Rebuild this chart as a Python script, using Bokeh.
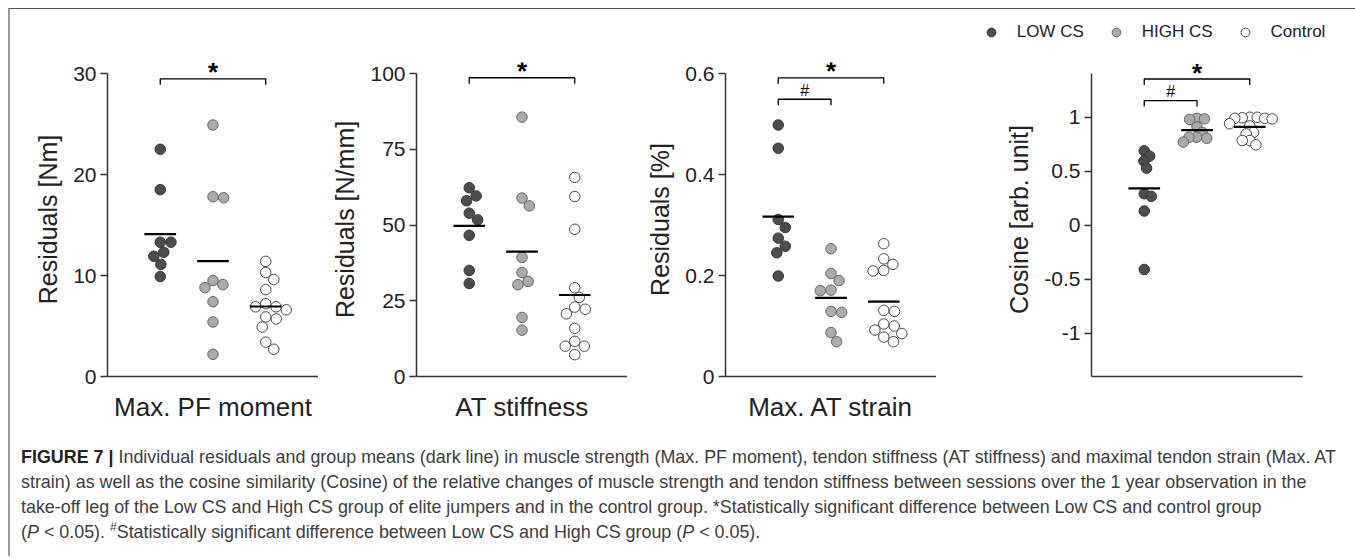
import math
import numpy as np
from bokeh.plotting import figure
from bokeh.models import Range1d, FixedTicker, Label, Legend, LegendItem, Div, ColumnDataSource
from bokeh.layouts import row, column
from bokeh.embed import file_html
from bokeh.resources import INLINE

groups = ["LOW CS", "HIGH CS", "Control"]

# Max. PF moment residuals [Nm]
pf_low = [22.5, 18.5, 13.3, 13.3, 12.3, 11.9, 11.1, 9.9]
pf_high = [24.9, 17.8, 17.7, 9.5, 9.1, 8.8, 7.4, 5.4, 2.2]
pf_ctrl = [11.4, 10.3, 9.6, 8.6, 7.2, 6.9, 6.9, 6.6, 5.9, 5.7, 4.9, 3.4, 2.7]

# AT stiffness residuals [N/mm]
st_low = [62.3, 59.6, 58.0, 53.9, 51.7, 46.6, 35.0, 30.7]
st_high = [85.6, 58.9, 56.3, 39.3, 34.3, 31.4, 30.3, 19.5, 15.3]
st_ctrl = [65.7, 59.4, 48.6, 29.3, 26.1, 22.9, 22.2, 20.7, 15.9, 11.6, 10.0, 10.0, 7.2]

# Max. AT strain residuals [%]
sn_low = [0.498, 0.452, 0.311, 0.295, 0.274, 0.258, 0.245, 0.199]
sn_high = [0.253, 0.204, 0.190, 0.171, 0.170, 0.129, 0.127, 0.087, 0.069]
sn_ctrl = [0.263, 0.233, 0.222, 0.210, 0.209, 0.131, 0.129, 0.104, 0.100, 0.092, 0.085, 0.078, 0.069]

# Cosine similarity [arb. unit]
cs_low = [0.689, 0.640, 0.594, 0.529, 0.292, 0.268, 0.132, -0.409]
cs_high = [0.99, 0.985, 0.98, 0.91, 0.86, 0.815, 0.815, 0.805, 0.77]
cs_ctrl = [1.0, 1.0, 0.995, 0.99, 0.99, 0.985, 0.94, 0.92, 0.86, 0.846, 0.785, 0.785, 0.745]

panel_data = [
    [pf_low, pf_high, pf_ctrl],
    [st_low, st_high, st_ctrl],
    [sn_low, sn_high, sn_ctrl],
    [cs_low, cs_high, cs_ctrl],
]
y_labels = ["Residuals [Nm]", "Residuals [N/mm]", "Residuals [%]", "Cosine [arb. unit]"]
x_labels = ["Max. PF moment", "AT stiffness", "Max. AT strain", ""]
y_limits = [(0, 30), (0, 100), (0, 0.6), (-1.4, 1.405)]
y_ticks = [[0, 10, 20, 30], [0, 25, 50, 75, 100], [0, 0.2, 0.4, 0.6], [-1, -0.5, 0, 0.5, 1]]
y_tick_labels = [["0", "10", "20", "30"], ["0", "25", "50", "75", "100"],
                 ["0", "0.2", "0.4", "0.6"], ["-1", "-0.5", "0", "0.5", "1"]]
# significance brackets: (symbol, group a, group b, bracket height)
brackets = [
    [("*", 1, 3, 29.47)],
    [("*", 1, 3, 98.6)],
    [("*", 1, 3, 0.5915), ("#", 1, 2, 0.549)],
    [("*", 1, 3, 1.354), ("#", 1, 2, 1.154)],
]

caption_html = (
    "<b style='color:#222'>FIGURE 7 |</b> Individual residuals and group means (dark line) in muscle strength "
    "(Max. PF moment), tendon stiffness (AT stiffness) and maximal tendon strain (Max. AT<br>"
    "strain) as well as the cosine similarity (Cosine) of the relative changes of muscle strength and tendon "
    "stiffness between sessions over the 1 year observation in the<br>"
    "take-off leg of the Low CS and High CS group of elite jumpers and in the control group. "
    "*Statistically significant difference between Low CS and control group<br>"
    "(<i>P</i> &lt; 0.05). <sup style='font-size:12px;line-height:0'>#</sup>Statistically significant difference between "
    "Low CS and High CS group (<i>P</i> &lt; 0.05)."
)

# ---------------- styling / layout ----------------
FONT = "Liberation Sans"
FILLS = ["#4d4d4d", "#ababab", "#ffffff"]
LINES = ["#353535", "#666666", "#4a4a4a"]
MARKER = 10.5
SWARM_D = [10.7, 10.7, 10.7, 7.5]

X0, Y0 = 10, 9            # page position of the layout content (8px margin + border)
TOTAL_W = 1344
HDR_H = 40
FRAME_LEFT = [107, 416, 725, 1091]
FRAME_W = 211
AXIS_TOP, AXIS_H = 73, 303   # page y of the top of the y axis, axis length
HEADROOM = 11                # frame space above the axis for the significance marks
BOTTOM = 64
X_SPAN = 4.0


def swarm(vals, ppy, ppx, d):
    vals = np.asarray(vals, dtype=float)
    order = np.argsort(-vals, kind="stable")
    placed = []
    xs = np.zeros(len(vals))
    for i in order:
        y = vals[i] * ppy
        cands = [0.0]
        for (px, py) in placed:
            dy = y - py
            if abs(dy) < d:
                dx = math.sqrt(d * d - dy * dy)
                cands += [px + dx, px - dx]
        cands.sort(key=lambda c: (round(abs(c), 6), -c))
        for c in cands:
            if all((c - px) ** 2 + (y - py) ** 2 >= d * d - 1e-6 for (px, py) in placed):
                xs[i] = c
                placed.append((c, y))
                break
    return xs / ppx


def make_panel(k, left_border, right_border):
    lo, hi = y_limits[k]
    ppy = AXIS_H / (hi - lo)
    ppx = FRAME_W / X_SPAN
    top_border = AXIS_TOP - HEADROOM - Y0 - HDR_H
    p = figure(width=left_border + FRAME_W + right_border,
               height=top_border + HEADROOM + AXIS_H + BOTTOM,
               x_range=Range1d(0, X_SPAN), y_range=Range1d(lo, hi + HEADROOM / ppy),
               toolbar_location=None, output_backend="svg",
               min_border_left=left_border, min_border_right=right_border,
               min_border_top=top_border, min_border_bottom=BOTTOM)
    p.grid.visible = False
    p.outline_line_color = None

    for g, vals in enumerate(panel_data[k]):
        gx = g + 1
        offs = swarm(vals, ppy, ppx, SWARM_D[k])
        src = ColumnDataSource(dict(x=gx + offs, y=vals))
        p.scatter("x", "y", source=src, size=MARKER, fill_color=FILLS[g],
                  line_color=LINES[g], line_width=1)
        m = float(np.mean(vals))
        p.segment(x0=[gx - 0.3], x1=[gx + 0.3], y0=[m], y1=[m],
                  line_color="black", line_width=2.2)

    for sym, a, b, h in brackets[k]:
        t = 6 / ppy
        p.line(x=[a, a, b, b], y=[h - t, h, h, h - t], line_color="black", line_width=1.3)
        if sym == "*":
            lab = Label(x=(a + b) / 2, y=h + 6.5 / ppy, text=sym, text_align="center",
                        text_baseline="alphabetic", text_font=FONT, text_font_size="26px",
                        text_font_style="bold", text_color="black")
        else:
            lab = Label(x=(a + b) / 2, y=h + 9 / ppy, text=sym, text_align="center",
                        text_baseline="alphabetic", text_font=FONT, text_font_size="16px",
                        text_color="black")
        p.add_layout(lab)

    yax = p.yaxis[0]
    yax.bounds = (lo, hi)
    yax.ticker = FixedTicker(ticks=y_ticks[k])
    yax.major_label_overrides = {t: s for t, s in zip(y_ticks[k], y_tick_labels[k])}
    yax.minor_tick_line_color = None
    yax.major_tick_in = 0
    yax.major_tick_out = 7
    yax.major_label_standoff = 4
    yax.major_label_text_font = FONT
    yax.major_label_text_font_size = "21px"
    yax.major_label_text_color = "#222222"
    yax.axis_line_color = "#333333"
    yax.axis_line_width = 1.5
    yax.major_tick_line_color = "#333333"
    yax.major_tick_line_width = 1.5
    yax.axis_label = y_labels[k]
    yax.axis_label_text_font = FONT
    yax.axis_label_text_font_size = "25px"
    yax.axis_label_text_font_style = "normal"
    yax.axis_label_text_color = "#222222"
    yax.axis_label_standoff = 8

    xax = p.xaxis[0]
    xax.ticker = FixedTicker(ticks=[])
    xax.major_tick_out = 0
    xax.major_tick_in = 0
    xax.minor_tick_line_color = None
    xax.axis_line_color = "#333333"
    xax.axis_line_width = 1.5
    if x_labels[k]:
        xax.axis_label = x_labels[k]
        xax.axis_label_text_font = FONT
        xax.axis_label_text_font_size = "26px"
        xax.axis_label_text_font_style = "normal"
        xax.axis_label_text_color = "#222222"
        xax.axis_label_standoff = 15
    return p


panels = []
prev_end = X0
for k in range(4):
    lb = FRAME_LEFT[k] - prev_end
    rb = 0 if k < 3 else (X0 + TOTAL_W) - (FRAME_LEFT[k] + FRAME_W)
    panels.append(make_panel(k, lb, rb))
    prev_end = FRAME_LEFT[k] + FRAME_W

# header with legend
hdr = figure(width=TOTAL_W, height=HDR_H, x_range=Range1d(0, TOTAL_W), y_range=Range1d(0, HDR_H),
             toolbar_location=None, output_backend="svg", min_border=0)
hdr.axis.visible = False
hdr.grid.visible = False
hdr.outline_line_color = None
items = []
for g, name in enumerate(groups):
    r = hdr.scatter(x=[float("nan")], y=[float("nan")], size=MARKER, fill_color=FILLS[g],
                    line_color=LINES[g], line_width=1)
    items.append(LegendItem(label=name, renderers=[r]))
legend = Legend(items=items, orientation="horizontal", location=(979.7 - X0, HDR_H - (31.7 - Y0) - 11),
                glyph_width=22, glyph_height=22, label_standoff=15, spacing=21,
                padding=0, margin=0, border_line_color=None, background_fill_alpha=0,
                label_text_font=FONT, label_text_font_size="17px", label_text_color="#222222")
hdr.add_layout(legend)

cap = Div(text="<div style=\"font-family:'Liberation Sans',Arial,sans-serif;font-size:17.9px;"
               "line-height:25px;color:#3d3d3d;white-space:nowrap;padding-left:6px;margin:0\">"
               + caption_html + "</div>",
          width=TOTAL_W, height=106)

layout = column(hdr, row(*panels, spacing=0), cap, spacing=0,
                styles={"margin-left": "8px", "margin-top": "8px",
                        "border-left": "2px solid #9a9a9a", "border-top": "1px solid #555555"})

open("out.html", "w").write(file_html(layout, INLINE))
